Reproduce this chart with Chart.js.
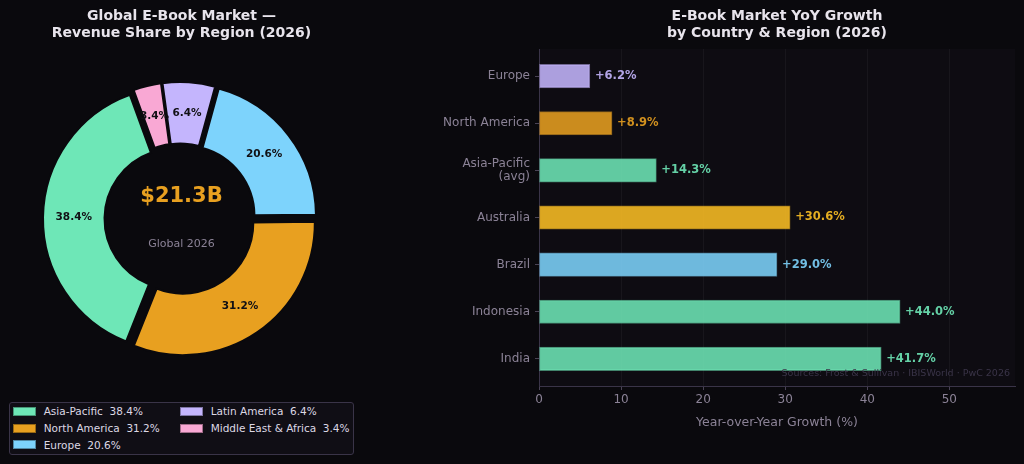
<!DOCTYPE html>
<html><head><meta charset="utf-8">
<script src="https://cdn.jsdelivr.net/npm/chart.js@4/dist/chart.umd.min.js"></script>
<style>
html,body{margin:0;padding:0;background:#0a090d;width:1024px;height:464px;overflow:hidden;font-family:'DejaVu Sans',sans-serif;}
.title{position:absolute;top:7px;font-weight:bold;font-size:14px;line-height:16.7px;color:#e8e4ec;text-align:center;white-space:nowrap;transform:translateX(-50%);}
#donut{position:absolute;left:0;top:0;}
#bars{position:absolute;left:380px;top:0;}
#legend{position:absolute;left:9px;top:402px;width:343px;height:51px;border:1px solid #3a3448;border-radius:3px;background:#100e15;}
.sw{position:absolute;width:21px;height:7px;border:1px solid rgba(0,0,0,0.35);}
.lt{position:absolute;font-size:10.5px;line-height:12px;color:#ddd8e4;white-space:pre;}
</style></head><body>
<canvas id="donut" width="360" height="438"></canvas>
<canvas id="bars" width="644" height="464"></canvas>
<div class="title" style="left:181.5px">Global E-Book Market —<br>Revenue Share by Region (2026)</div>
<div class="title" style="left:777px">E-Book Market YoY Growth<br>by Country &amp; Region (2026)</div>
<div id="legend"></div>
<script>
// ---- data ----
const regions = ['Asia-Pacific', 'North America', 'Europe', 'Latin America', 'Middle East & Africa'];
const shares = [38.4, 31.2, 20.6, 6.4, 3.4];
const regionColors = ['#6ee7b7', '#e8a020', '#7dd3fc', '#c4b5fd', '#f9a8d4'];
const totalLabel = '$21.3B';
const totalSub = 'Global 2026';

const growthCategories = ['Europe', 'North America', 'Asia-Pacific\n(avg)', 'Australia', 'Brazil', 'Indonesia', 'India'];
const growthValues = [6.2, 8.9, 14.3, 30.6, 29.0, 44.0, 41.7];
const growthColors = ['#c4b5fd', '#e8a020', '#6ee7b7', '#fbbf24', '#7dd3fc', '#6ee7b7', '#6ee7b7'];
const xTicks = [0, 10, 20, 30, 40, 50];
const xTitle = 'Year-over-Year Growth (%)';
const sourceNote = 'Sources: Frost & Sullivan · IBISWorld · PwC 2026';

Chart.defaults.font.family = "'DejaVu Sans', sans-serif";

// ---- legend (HTML) ----
const legend = document.getElementById('legend');
const rowY = [8, 25.3, 41.7];
regions.forEach((r, i) => {
  const col = i < 3 ? 0 : 1;
  const row = i < 3 ? i : i - 3;
  const sx = col === 0 ? 3 : 170;
  const tx = col === 0 ? 33.7 : 200.7;
  const sw = document.createElement('div');
  sw.className = 'sw';
  sw.style.left = sx + 'px';
  sw.style.top = (rowY[row] - 4.5) + 'px';
  sw.style.background = regionColors[i];
  legend.appendChild(sw);
  const t = document.createElement('div');
  t.className = 'lt';
  t.style.left = tx + 'px';
  t.style.top = (rowY[row] - 6) + 'px';
  t.textContent = r + '  ' + shares[i].toFixed(1) + '%';
  legend.appendChild(t);
});

// ---- donut ----
const EXPLODE = 5;
const ord = regions.map((_, i) => i).reverse();

const explodePlugin = {
  id: 'explode',
  beforeDatasetDraw(chart, args) {
    const ctx = chart.ctx;
    args.meta.data.forEach(arc => {
      const mid = (arc.startAngle + arc.endAngle) / 2;
      ctx.save();
      ctx.translate(Math.cos(mid) * EXPLODE, Math.sin(mid) * EXPLODE);
      arc.draw(ctx, chart.chartArea);
      ctx.restore();
    });
    return false;
  },
  afterDatasetsDraw(chart) {
    const ctx = chart.ctx;
    const meta = chart.getDatasetMeta(0);
    const vals = chart.data.datasets[0].data;
    ctx.save();
    ctx.fillStyle = '#111014';
    ctx.font = "bold 10.5px 'DejaVu Sans'";
    ctx.textAlign = 'center';
    ctx.textBaseline = 'middle';
    meta.data.forEach((arc, i) => {
      const mid = (arc.startAngle + arc.endAngle) / 2;
      const r = (arc.innerRadius + arc.outerRadius) / 2 + EXPLODE;
      ctx.fillText(vals[i].toFixed(1) + '%', arc.x + Math.cos(mid) * r, arc.y + Math.sin(mid) * r);
    });
    const a0 = meta.data[0];
    ctx.fillStyle = '#e8a020';
    ctx.font = "bold 21px 'DejaVu Sans'";
    ctx.fillText(totalLabel, a0.x + 1.5, a0.y - 22);
    ctx.fillStyle = '#8b8296';
    ctx.font = "11px 'DejaVu Sans'";
    ctx.fillText(totalSub, a0.x + 1.5, a0.y + 25);
    ctx.restore();
  }
};

new Chart(document.getElementById('donut'), {
  type: 'doughnut',
  data: {
    labels: ord.map(i => regions[i]),
    datasets: [{
      data: ord.map(i => shares[i]),
      backgroundColor: ord.map(i => regionColors[i]),
      borderColor: '#0a090d',
      borderWidth: 2,
      borderJoinStyle: 'miter',
      hoverOffset: 0,
      offset: 0
    }]
  },
  options: {
    responsive: false,
    animation: false,
    events: [],
    rotation: -20,
    radius: 132,
    cutout: '53.4%',
    layout: { padding: 0 },
    plugins: { legend: { display: false }, tooltip: { enabled: false } }
  },
  plugins: [explodePlugin]
});

// ---- bars ----
const plotBg = {
  id: 'plotBg',
  beforeDraw(chart) {
    const { ctx, chartArea: a } = chart;
    ctx.save();
    ctx.fillStyle = '#0e0c12';
    ctx.fillRect(a.left, a.top, a.right - a.left, a.bottom - a.top);
    ctx.restore();
  },
  afterDraw(chart) {
    const { ctx, chartArea: a } = chart;
    ctx.save();
    ctx.fillStyle = '#3a3448';
    ctx.font = "9.5px 'DejaVu Sans'";
    ctx.textAlign = 'right';
    ctx.textBaseline = 'middle';
    ctx.fillText(sourceNote, a.right - 5, a.bottom - 12);
    ctx.restore();
  }
};

const barLabels = {
  id: 'barLabels',
  afterDatasetsDraw(chart) {
    const ctx = chart.ctx;
    const meta = chart.getDatasetMeta(0);
    ctx.save();
    ctx.font = "bold 11.5px 'DejaVu Sans'";
    ctx.textAlign = 'left';
    ctx.textBaseline = 'middle';
    meta.data.forEach((bar, i) => {
      ctx.fillStyle = growthColors[i] + 'e6';
      ctx.fillText('+' + growthValues[i].toFixed(1) + '%', bar.x + 5, bar.y);
    });
    ctx.restore();
  }
};

new Chart(document.getElementById('bars'), {
  type: 'bar',
  data: {
    datasets: [{
      data: growthCategories.map((c, i) => ({ x: growthValues[i], y: i })),
      backgroundColor: growthColors.map(c => c + 'de'),
      borderColor: growthColors.map(c => c + '8c'),
      borderWidth: 1,
      borderSkipped: false,
      barThickness: 23.5
    }]
  },
  options: {
    indexAxis: 'y',
    responsive: false,
    animation: false,
    events: [],
    layout: { padding: { top: 49, right: 9, bottom: 0, left: 0 } },
    plugins: { legend: { display: false }, tooltip: { enabled: false } },
    scales: {
      x: {
        type: 'linear', min: 0, max: 58, offset: false,
        afterFit(s) { s.height = 78; },
        afterBuildTicks(s) { s.ticks = xTicks.map(v => ({ value: v })); },
        ticks: { color: '#8b8296', font: { size: 12 }, padding: 3 },
        grid: { color: 'rgba(255,255,255,0.045)', tickColor: '#4a4356', tickLength: 4, offset: false },
        border: { color: '#3a3448', width: 1 },
        title: { display: true, text: xTitle, color: '#8b8296', font: { size: 12.5 }, padding: { top: 0, bottom: 33.5 } }
      },
      y: {
        type: 'linear', reverse: true, min: -0.575, max: 6.575, offset: false,
        afterFit(s) { s.width = 159; },
        afterBuildTicks(s) { s.ticks = growthCategories.map((_, i) => ({ value: i })); },
        ticks: { color: '#8b8296', font: { size: 12, lineHeight: 1.15 }, padding: 5,
                 callback: (v) => growthCategories[v] ? growthCategories[v].split('\n') : '' },
        grid: { display: true, drawOnChartArea: false, tickColor: '#4a4356', tickLength: 4, offset: false },
        border: { color: '#3a3448', width: 1 }
      }
    }
  },
  plugins: [plotBg, barLabels]
});
</script>
</body></html>
